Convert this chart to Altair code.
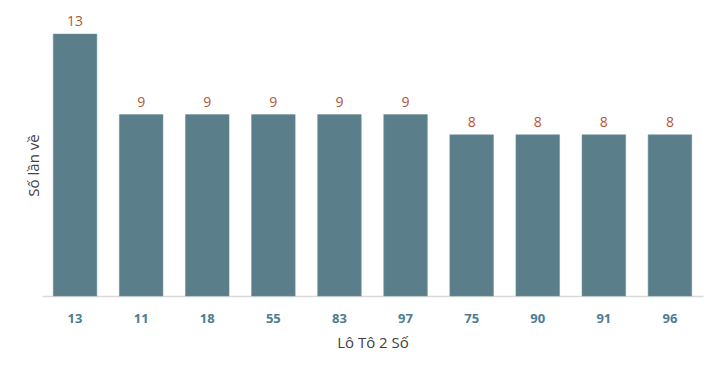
import altair as alt
import pandas as pd

categories = ["13", "11", "18", "55", "83", "97", "75", "90", "91", "96"]
counts = [13, 9, 9, 9, 9, 9, 8, 8, 8, 8]

df = pd.DataFrame({"so": categories, "lan": counts})

x = alt.X("so:N", sort=categories,
          scale=alt.Scale(paddingInner=0.34, paddingOuter=0.17),
          axis=alt.Axis(title="Lô Tô 2 Số", labelAngle=0, labelFontWeight="bold",
                        labelColor="#4d7d92", labelFontSize=13, labelPadding=16,
                        ticks=False, domainColor="#d9d9d9", domainWidth=1.5,
                        titleFontWeight="normal", titleFontSize=15, titleColor="#404040",
                        titlePadding=10, labelFont="Open Sans", titleFont="Open Sans"))
y = alt.Y("lan:Q", scale=alt.Scale(domain=[0, 13], nice=False),
          axis=alt.Axis(title="Số lần về", labels=False, ticks=False, domain=False, grid=False,
                        titleFontWeight="normal", titleFontSize=15, titleColor="#404040",
                        titlePadding=1, titleFont="Open Sans"))

bars = alt.Chart(df).mark_bar(color="#5a7f8a", stroke="#6c9098", strokeWidth=0.5).encode(x=x, y=y)
text = alt.Chart(df).mark_text(dy=-12, fontSize=14, color="#b4543a", font="Open Sans").encode(
    x=alt.X("so:N", sort=categories), y="lan:Q", text="lan:Q")

chart = (bars + text).properties(
    width=661, height=262,
    autosize=alt.AutoSizeParams(type="none"),
    padding={"left": 42, "top": 34, "right": 14, "bottom": 74},
).configure_view(stroke=None).configure_axis(grid=False)

chart.save("out.html", embed_options={"renderer": "svg", "actions": False})
